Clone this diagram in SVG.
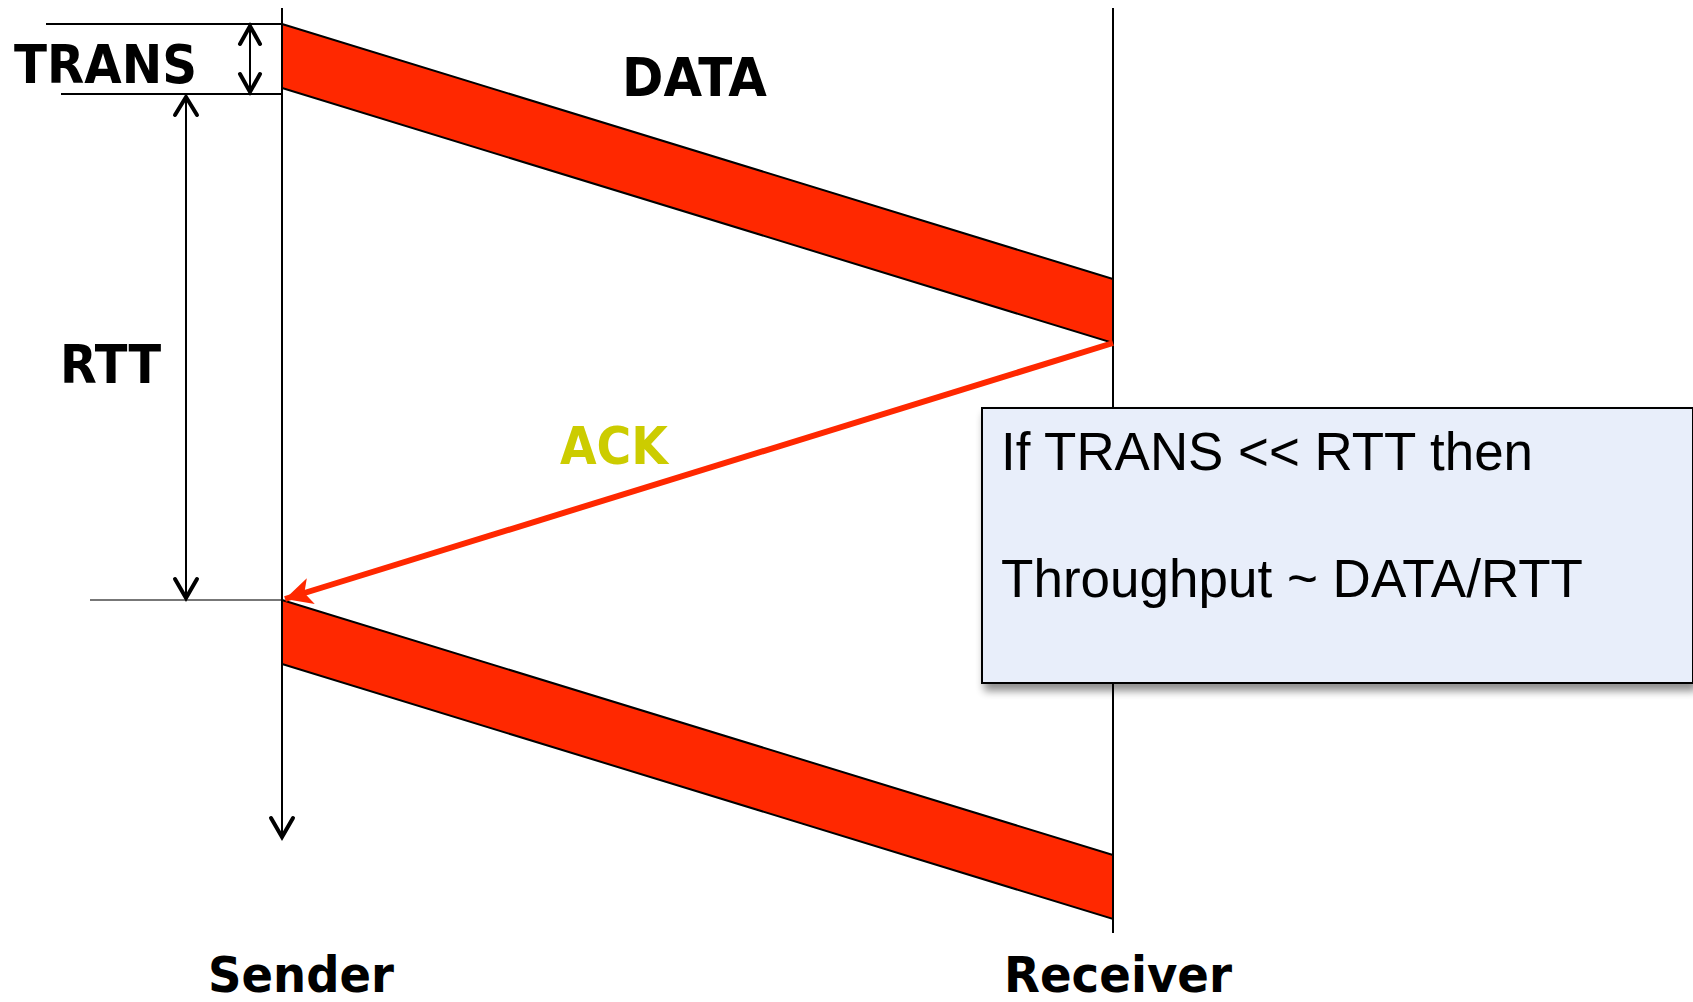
<svg xmlns="http://www.w3.org/2000/svg" width="1693" height="1002" viewBox="0 0 1693 1002">
  <style>
    .lbl { font-family: "DejaVu Sans", Verdana, sans-serif; font-weight: bold; fill: #000; }
    .note { font-family: "Liberation Sans", Arial, sans-serif; font-size: 53px; fill: #000; }
    .life { stroke: #000; stroke-width: 2; fill: none; }
    .dim { stroke: #000; stroke-width: 2; fill: none; }
    .chev { stroke: #000; stroke-width: 4; fill: none; stroke-linecap: round; stroke-linejoin: miter; }
    .pkt { fill: #FF2800; stroke: #000; stroke-width: 2; stroke-linejoin: miter; }
  </style>
  <defs>
    <marker id="ackHead" viewBox="0 0 10 10" refX="10" refY="5" markerWidth="4.5" markerHeight="4.5" orient="auto" markerUnits="strokeWidth">
      <path d="M0,0 L10,5 L0,10 L2.5,5 z" fill="#FF2800"/>
    </marker>
    <filter id="shadow" x="-10%" y="-10%" width="120%" height="130%">
      <feGaussianBlur in="SourceAlpha" stdDeviation="4"/>
      <feOffset dx="3" dy="7" result="b"/>
      <feComponentTransfer><feFuncA type="linear" slope="0.45"/></feComponentTransfer>
      <feMerge><feMergeNode/><feMergeNode in="SourceGraphic"/></feMerge>
    </filter>
  </defs>
  <rect width="1693" height="1002" fill="#fff"/>

  <!-- lifelines -->
  <g id="sender">
    <line class="life" x1="282" y1="8" x2="282" y2="837"/>
    <polyline class="chev" points="271,818 282,837 293,818"/>
    <text class="lbl" x="208" y="992" font-size="49" textLength="186" lengthAdjust="spacingAndGlyphs">Sender</text>
  </g>
  <g id="receiver">
    <line class="life" x1="1113" y1="8" x2="1113" y2="933"/>
    <text class="lbl" x="1004" y="992" font-size="49" textLength="228" lengthAdjust="spacingAndGlyphs">Receiver</text>
  </g>

  <!-- data packets in flight -->
  <g id="data1">
    <polygon class="pkt" points="282,24 1113,279 1113,343 282,88"/>
    <text class="lbl" x="622" y="96" font-size="53" textLength="145" lengthAdjust="spacingAndGlyphs">DATA</text>
  </g>
  <g id="data2">
    <polygon class="pkt" points="282,600 1113,855 1113,919 282,664"/>
  </g>

  <!-- timing annotations and acknowledgement -->
  <g id="connectors">
    <line class="dim" x1="46" y1="24" x2="281" y2="24"/>
    <line class="dim" x1="61" y1="94" x2="281" y2="94"/>
    <line x1="90" y1="600" x2="281" y2="600" stroke="#777" stroke-width="2"/>

    <g id="trans-span">
      <line class="dim" x1="250" y1="25" x2="250" y2="93"/>
      <polyline class="chev" points="240,44 250,26 260,44"/>
      <polyline class="chev" points="240,74 250,92 260,74"/>
    </g>
    <g id="rtt-span">
      <line class="dim" x1="186" y1="96" x2="186" y2="599"/>
      <polyline class="chev" points="175,115 186,97 197,115"/>
      <polyline class="chev" points="175,579 186,598 197,579"/>
    </g>
    <g id="ack">
      <line x1="1113" y1="343" x2="285" y2="599" stroke="#FF2800" stroke-width="6" marker-end="url(#ackHead)"/>
    </g>
  </g>

  <g id="labels">
    <text class="lbl" x="14" y="83" font-size="54" textLength="183" lengthAdjust="spacingAndGlyphs">TRANS</text>
    <text class="lbl" x="60" y="383" font-size="54" textLength="101" lengthAdjust="spacingAndGlyphs">RTT</text>
    <text class="lbl" x="560" y="464" font-size="52" textLength="108" lengthAdjust="spacingAndGlyphs" style="fill:#CCCC00">ACK</text>
  </g>

  <!-- note -->
  <g id="note">
    <rect x="982" y="408" width="711" height="275" fill="#E8EEFA" stroke="#000" stroke-width="2" filter="url(#shadow)"/>
    <text class="note" x="1001" y="470" textLength="532" lengthAdjust="spacingAndGlyphs">If TRANS &lt;&lt; RTT then</text>
    <text class="note" x="1001" y="597" textLength="582" lengthAdjust="spacingAndGlyphs">Throughput ~ DATA/RTT</text>
  </g>
</svg>
